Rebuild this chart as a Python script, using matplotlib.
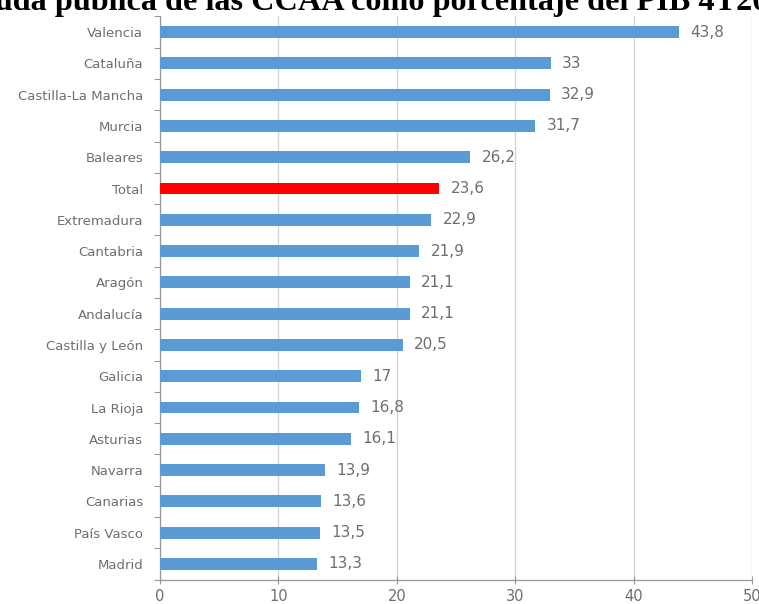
import matplotlib
matplotlib.use("Agg")
import matplotlib.pyplot as plt
import numpy as np

REGIONS = [
    "Valencia", "Cataluña", "Castilla-La Mancha", "Murcia", "Baleares", "Total",
    "Extremadura", "Cantabria", "Aragón", "Andalucía", "Castilla y León", "Galicia",
    "La Rioja", "Asturias", "Navarra", "Canarias", "País Vasco", "Madrid",
]
DEBT_PCT_GDP = [43.8, 33, 32.9, 31.7, 26.2, 23.6, 22.9, 21.9, 21.1, 21.1, 20.5, 17,
                16.8, 16.1, 13.9, 13.6, 13.5, 13.3]
X_TICKS = [0, 10, 20, 30, 40, 50]
TITLE = "Deuda pública de las CCAA como porcentaje del PIB 4T2016"

BLUE = "#5B9BD5"
RED = "#FF0000"
TEXT_GREY = "#6E6E6E"


def fmt(v):
    return f"{v:g}".replace(".", ",")


fig = plt.figure(figsize=(7.59, 6.04), dpi=100)
ax = fig.add_axes([0.2108, 0.0404, 0.78, 0.9324])

y = np.arange(len(REGIONS))
colors = [RED if r == "Total" else BLUE for r in REGIONS]
ax.barh(y, DEBT_PCT_GDP, height=0.38, color=colors, zorder=3)

for yi, v in zip(y, DEBT_PCT_GDP):
    ax.text(v + 0.95, yi, fmt(v), va="center", ha="left", fontsize=11,
            color=TEXT_GREY, family="DejaVu Sans")

ax.set_ylim(len(REGIONS) - 0.5, -0.5)
ax.set_xlim(0, 50)
ax.set_yticks(y)
ax.set_yticklabels(REGIONS, fontsize=9.5, color=TEXT_GREY)
ax.set_yticks(np.arange(-0.5, len(REGIONS), 1), minor=True)
ax.tick_params(axis="y", which="major", length=0, pad=12)
ax.tick_params(axis="y", which="minor", length=4, color="#999999", width=0.8)
ax.set_xticks(X_TICKS)
ax.set_xticklabels([str(t) for t in X_TICKS], fontsize=10.5, color=TEXT_GREY)
ax.tick_params(axis="x", direction="inout", length=6, color="#999999", width=0.8, pad=4)

ax.grid(axis="x", color="#D4D4D4", linewidth=1.0, zorder=0)
ax.set_axisbelow(True)
for side in ("top", "right"):
    ax.spines[side].set_visible(False)
for side in ("left", "bottom"):
    ax.spines[side].set_color("#999999")
    ax.spines[side].set_linewidth(0.9)

# title is cut off by the crop of the original screenshot
fig.text(-0.056, 1 - 10 / 604, TITLE, fontsize=23.2, fontweight="bold",
         family="Liberation Serif", ha="left", va="baseline", color="black")

fig.savefig("out.png", dpi=100)
